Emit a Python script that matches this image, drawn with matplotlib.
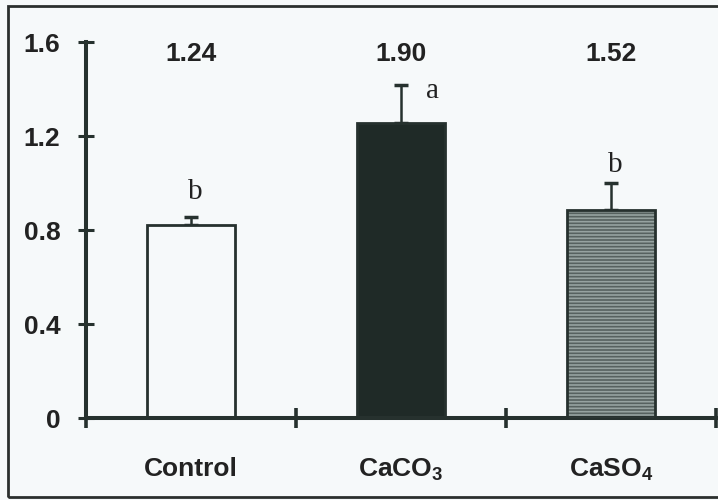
import numpy as np
import matplotlib
matplotlib.use("Agg")
import matplotlib.pyplot as plt
from matplotlib.patches import Rectangle

# data
categories = ["Control", "CaCO$_\\mathbf{3}$", "CaSO$_\\mathbf{4}$"]
means = [0.82, 1.255, 0.885]
errors = [0.035, 0.16, 0.115]
top_values = ["1.24", "1.90", "1.52"]
letters = ["b", "a", "b"]
letter_x = [0.02, 1.15, 2.02]
letter_y = [0.93, 1.36, 1.045]
yticks = [0, 0.4, 0.8, 1.2, 1.6]
ytick_labels = ["0", "0.4", "0.8", "1.2", "1.6"]

bg = "#f6f9fa"
dark = "#26312e"
faces = [bg, "#1f2a27", "#56625f"]

plt.rcParams["font.family"] = ["Liberation Sans", "DejaVu Sans"]
plt.rcParams["mathtext.fontset"] = "custom"
plt.rcParams["mathtext.bf"] = "Liberation Sans:bold"
plt.rcParams["mathtext.rm"] = "Liberation Sans"
plt.rcParams["hatch.linewidth"] = 1.2

fig = plt.figure(figsize=(7.18, 5.0), dpi=100, facecolor=bg)
ax = fig.add_axes([86 / 718, 82 / 500, 630 / 718, 376 / 500])
ax.set_facecolor(bg)

x = np.arange(len(categories))
width = 0.42

# bars
ax.bar(x, means, width, color=faces, edgecolor="none", zorder=2)
# horizontal line texture on the third bar
ax.bar(x[2], means[2], width, facecolor="none", edgecolor="#96a3a0",
       linewidth=0, hatch="-----", zorder=3)
ax.bar(x, means, width, facecolor="none", edgecolor=dark, linewidth=2.0, zorder=4)

# upward error bars
ax.errorbar(x, means, yerr=[np.zeros(len(x)), errors], fmt="none",
            ecolor=dark, elinewidth=1.8, capsize=5, capthick=2.5, zorder=1)

# numbers above the bars
for xi, t in zip(x, top_values):
    ax.text(xi, 1.55, t, ha="center", va="center", fontsize=19,
            fontweight="bold", color="#222222")

# significance letters
for lx, ly, l in zip(letter_x, letter_y, letters):
    ax.text(lx, ly, l, ha="center", va="baseline", fontsize=21,
            family="Liberation Serif", color="#222222")

ax.set_xlim(-0.5, 2.5)
ax.set_ylim(0, 1.6)

ax.spines["top"].set_visible(False)
ax.spines["right"].set_visible(False)
for s in ["left", "bottom"]:
    ax.spines[s].set_linewidth(2.9)
    ax.spines[s].set_color(dark)
    ax.spines[s].set_clip_on(False)

ax.set_yticks(yticks)
ax.set_yticklabels(ytick_labels, fontsize=19, fontweight="bold", color="#222222")
ax.tick_params(axis="y", direction="inout", length=11, width=2.2, color=dark, pad=13)

ax.set_xticks(x)
ax.set_xticklabels(categories, fontsize=19, fontweight="bold", color="#222222")
ax.set_xticks([-0.5, 0.5, 1.5, 2.5], minor=True)
ax.tick_params(axis="x", which="major", length=0, pad=28)
ax.tick_params(axis="x", which="minor", direction="inout", length=14,
               width=2.6, color=dark)
for t in ax.xaxis.get_minorticklines() + ax.yaxis.get_majorticklines():
    t.set_clip_on(False)

# frame around the whole figure
fig.patches.append(Rectangle((8 / 718, 3 / 500), 1.1, 491 / 500,
                             transform=fig.transFigure, fill=False,
                             edgecolor="#2b2f2e", linewidth=2.0))

fig.savefig("out.png", dpi=100, facecolor=bg)
